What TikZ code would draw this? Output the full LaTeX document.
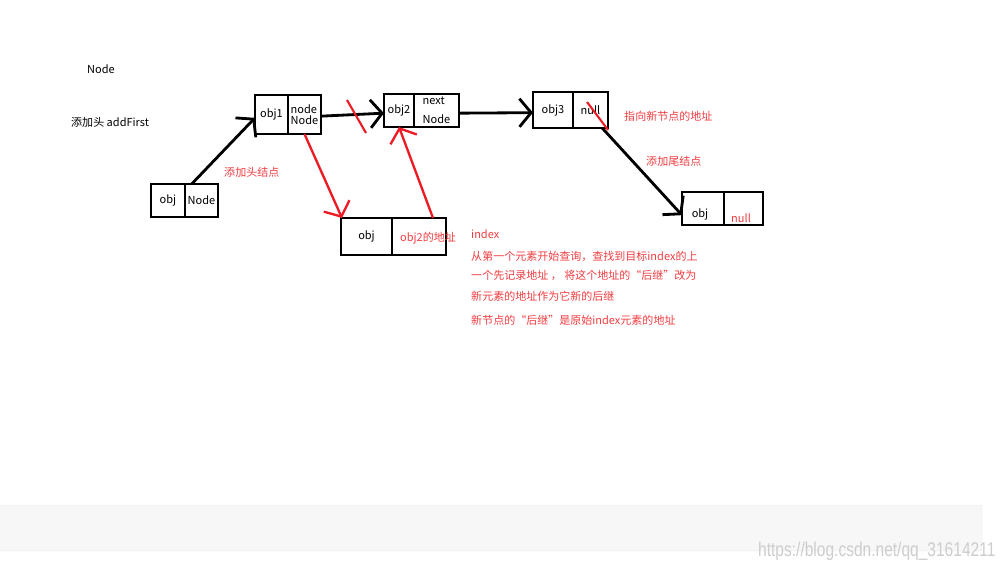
\documentclass[tikz,border=0pt]{standalone}
\usepackage{fontspec}
\setmainfont{Noto Sans CJK SC}
\newfontfamily\wmfont{Liberation Sans}
\usetikzlibrary{arrows.meta,positioning}
\definecolor{sketchred}{RGB}{237,28,36}
\definecolor{notered}{RGB}{240,60,64}
\definecolor{barfill}{RGB}{247,247,247}
\definecolor{barline}{RGB}{228,228,228}
\definecolor{wmgray}{RGB}{205,205,205}

\begin{document}
\begin{tikzpicture}[x=0.03cm,y=-0.03cm,font=\fontsize{9.4}{11}\selectfont,
  cell/.style={draw,line width=2.5pt,inner sep=0pt,outer sep=0pt},
  blkarr/.style={line width=2.4pt,-{Straight Barb[length=10pt,width=24pt]}},
  redarr/.style={draw=sketchred,line width=2pt,-{Straight Barb[length=10pt,width=24pt]}},
  slash/.style={sketchred,line width=1.8pt},
  note/.style={text=notered,anchor=west,inner sep=0pt},
  plain/.style={anchor=west,inner sep=0pt}]
  \useasboundingbox (0,0) rectangle (1008,568);
  % Titles
  \node (title) at (101,69) {Node};
  \node[plain] (addfirst) at (71,122) {添加头 addFirst};
  % Head node
  \node[cell,minimum width=1.02cm,minimum height=0.99cm] (headL) at (168,200.5) {obj};
  \node[cell,minimum width=0.99cm,minimum height=0.99cm,right=0pt of headL] (headR) {Node};
  % List: obj1 -> obj2 -> obj3
  \node[cell,minimum width=0.99cm,minimum height=1.17cm] (obj1L) at (271.5,114.5) {obj1};
  \node[cell,minimum width=0.99cm,minimum height=1.17cm,right=0pt of obj1L,align=left] (obj1R) {node\\[-2pt]Node};
  \node[cell,minimum width=0.90cm,minimum height=0.99cm] (obj2L) at (399,110.5) {obj2};
  \node[cell,minimum width=1.35cm,minimum height=0.99cm,right=0pt of obj2L,align=left] (obj2R) {next\\[5pt]Node};
  \node[cell,minimum width=1.20cm,minimum height=1.08cm] (obj3L) at (553,110) {obj3};
  \node[cell,minimum width=1.05cm,minimum height=1.08cm,right=0pt of obj3L] (obj3R) {null};
  % Tail node
  \node[cell,minimum width=1.26cm,minimum height=0.99cm] (tailL) at (703,208.5) {};
  \node[cell,minimum width=1.17cm,minimum height=0.99cm,right=0pt of tailL] (tailR) {};
  \node (tailobj) at (700,214) {obj};
  \node[note] (tailnull) at (731,218) {null};
  % Inserted node
  \node[cell,minimum width=1.53cm,minimum height=1.11cm] (newL) at (366.5,236.5) {obj};
  \node[cell,minimum width=1.62cm,minimum height=1.11cm,right=0pt of newL] (newR) {};
  \node[note] (addr) at (400,238) {obj2的地址};
  % Black links
  \draw[blkarr] ([xshift=0.2cm]headL.north east) -- ([yshift=-0.1cm]obj1L.west);
  \draw[blkarr] ([yshift=-0.05cm]obj1R.east) -- ([yshift=-0.08cm]obj2L.west);
  \draw[blkarr] ([yshift=-0.08cm]obj2R.east) -- ([yshift=-0.08cm]obj3L.west);
  \draw[blkarr] ([xshift=0.35cm]obj3R.south) -- ([yshift=-0.2cm]tailL.west);
  % Red changes
  \draw[slash] (347,100) -- (366,133);
  \draw[slash] (587,102) -- (608,130);
  \draw[redarr] (obj1R.south) -- ([xshift=0.03cm]newL.north west);
  \draw[redarr] ([xshift=0.42cm]newR.north) -- (obj2L.south);
  % Notes
  \node[note] (headlbl) at (224,172) {添加头结点};
  \node[note] (ptrlbl) at (624,116) {指向新节点的地址};
  \node[note] (taillbl) at (646,161) {添加尾结点};
  \node[note] (idxlbl) at (471,234) {index};
  \foreach \yy/\txt/\nm in {256/{从第一个元素开始查询，查找到目标index的上}/stepa,
      275/{一个先记录地址 ， 将这个地址的“后继”改为}/stepb,
      296/{新元素的地址作为它新的后继}/stepc,
      320/{新节点的“后继”是原始index元素的地址}/stepd}{
    \node[note] (\nm) at (471,\yy) {\txt};
  }
  % Bottom bar
  \draw[barline,fill=barfill,rounded corners=2pt] (-4,505) rectangle (982,551);
  \node[wmgray,font=\wmfont\fontsize{17}{17}\selectfont,xscale=0.78,anchor=base west,inner sep=0pt] (wm) at (758,556) {https://blog.csdn.net/qq\_31614211};
\end{tikzpicture}
\end{document}
